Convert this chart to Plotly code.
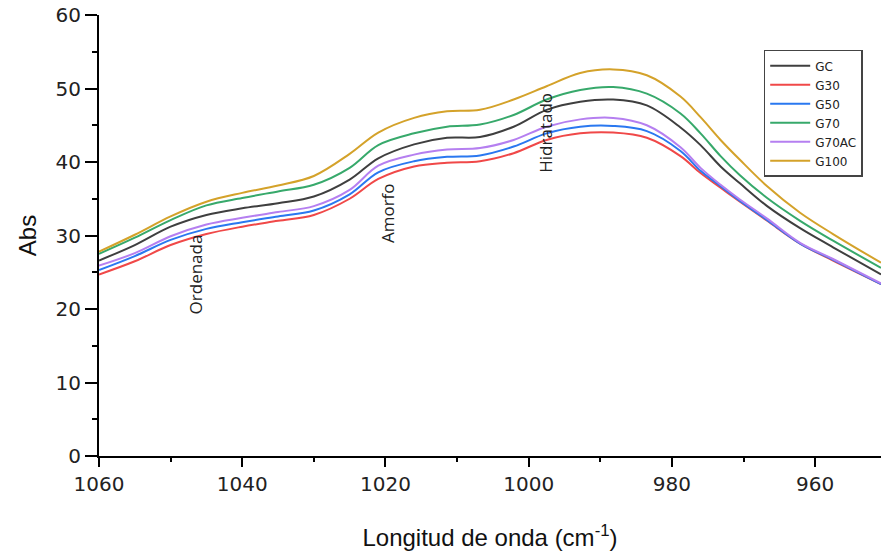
import plotly.graph_objects as go

# wavenumber samples (cm^-1)
wavenumber = [1060, 1055, 1050, 1045, 1040, 1035, 1030, 1025, 1021, 1016, 1011.4, 1006.8,
              1002.1, 997.5, 992.8, 988.2, 983.5, 978.8, 976, 973.2, 970.5, 966.7, 962.1,
              957.5, 950.8]

gc    = [26.6, 28.7, 31.2, 32.8, 33.7, 34.4, 35.3, 37.6, 40.5, 42.4, 43.3, 43.4,
         44.8, 47.1, 48.2, 48.5, 47.7, 44.7, 42.3, 39.4, 37.1, 34.0, 31.0, 28.4, 24.7]
g30   = [24.7, 26.5, 28.7, 30.2, 31.2, 32.0, 32.8, 35.0, 37.7, 39.4, 39.9, 40.1,
         41.2, 43.0, 43.9, 44.0, 43.3, 40.8, 38.5, 36.5, 34.6, 32.0, 28.9, 26.6, 23.4]
g50   = [25.3, 27.2, 29.4, 30.9, 31.8, 32.6, 33.4, 35.6, 38.6, 40.1, 40.7, 40.9,
         42.1, 43.9, 44.8, 44.9, 44.2, 41.5, 38.8, 36.7, 34.7, 32.1, 28.9, 26.7, 23.4]
g70   = [27.5, 29.7, 32.1, 34.1, 35.1, 36.0, 36.9, 39.2, 42.3, 43.9, 44.8, 45.1,
         46.4, 48.5, 49.8, 50.2, 49.3, 46.6, 43.9, 40.8, 38.2, 35.1, 32.0, 29.3, 25.6]
g70ac = [25.9, 27.6, 29.9, 31.5, 32.4, 33.2, 34.0, 36.2, 39.5, 41.0, 41.7, 41.9,
         43.0, 44.8, 45.8, 46.0, 45.0, 42.0, 39.2, 36.9, 34.9, 32.3, 29.0, 26.8, 23.5]
g100  = [27.8, 30.1, 32.6, 34.6, 35.8, 36.8, 38.1, 41.1, 44.0, 46.0, 46.9, 47.1,
         48.5, 50.3, 52.1, 52.6, 51.8, 48.9, 46.1, 43.0, 40.3, 36.7, 33.1, 30.2, 26.3]

series_names = ["GC", "G30", "G50", "G70", "G70AC", "G100"]
series_values = [gc, g30, g50, g70, g70ac, g100]
series_colors = ["#3f3f3f", "#f04848", "#2a78f0", "#37a96b", "#b57ff0", "#d4a22a"]

# band labels
band_labels = ["Ordenada", "Amorfo", "Hidratado"]
band_x = [1046.6, 1019.7, 997.7]
band_y = [24.7, 33.0, 44.0]

fig = go.Figure()
for name, vals, col in zip(series_names, series_values, series_colors):
    fig.add_trace(go.Scatter(x=wavenumber, y=vals, name=name, mode="lines",
                             line=dict(color=col, width=2, shape="spline", smoothing=1.0)))

for t, bx, by in zip(band_labels, band_x, band_y):
    fig.add_annotation(x=bx, y=by, text=t, showarrow=False, textangle=-90,
                       xanchor="center", yanchor="middle",
                       font=dict(family="Open Sans", size=17, color="#222222"))

fig.update_layout(
    width=881, height=556,
    margin=dict(l=99, r=0, t=15, b=100),
    paper_bgcolor="white", plot_bgcolor="white",
    showlegend=True,
    legend=dict(x=0.85, y=0.921, xanchor="left", yanchor="top",
                bgcolor="white", bordercolor="#444444", borderwidth=1.5,
                font=dict(family="DejaVu Sans", size=12, color="#222222"),
                itemwidth=40, tracegroupgap=0),
    font=dict(family="DejaVu Sans", color="#222222"),
)

fig.update_xaxes(
    range=[1060, 950.8], tick0=0, dtick=20,
    showline=True, linecolor="black", linewidth=2,
    ticks="outside", ticklen=9, tickwidth=2, tickcolor="black",
    minor=dict(ticks="outside", ticklen=4, tickwidth=2, tickcolor="black", dtick=10),
    showgrid=False, zeroline=False,
    tickfont=dict(family="DejaVu Sans", size=20, color="#222222"),
    ticklabeloverflow="allow",
    title=dict(text="Longitud de onda (cm<sup>-1</sup>)", standoff=34,
               font=dict(family="Liberation Sans", size=24, color="#111111")),
    automargin=False,
)
fig.update_yaxes(
    range=[0, 60], tick0=0, dtick=10,
    showline=True, linecolor="black", linewidth=2,
    ticks="outside", ticklen=12, tickwidth=2, tickcolor="black",
    minor=dict(ticks="outside", ticklen=5, tickwidth=2, tickcolor="black", dtick=5),
    showgrid=False, zeroline=False,
    tickfont=dict(family="DejaVu Sans", size=20, color="#222222"),
    ticklabeloverflow="allow",
    title=dict(text="Abs", standoff=12,
               font=dict(family="Liberation Sans", size=24, color="#111111")),
    automargin=False,
)

fig.write_html("out.html", config={"displayModeBar": False},
               post_script="document.body.style.margin='0';")
